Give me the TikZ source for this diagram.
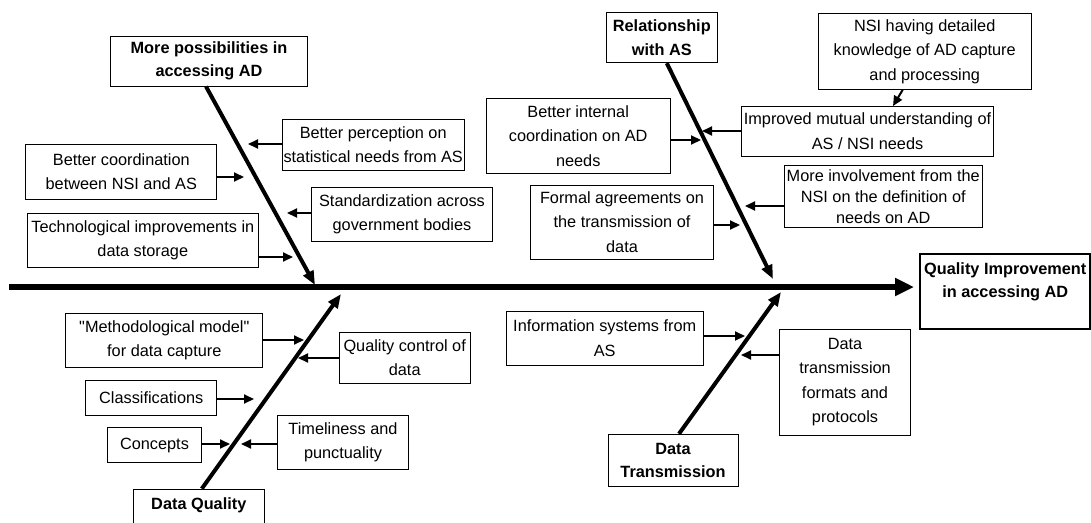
\documentclass[tikz,border=0pt]{standalone}
\usepackage{fontspec}
\setmainfont{Liberation Sans}[Ligatures=TeXOff]
\usetikzlibrary{arrows.meta}

\begin{document}
\begin{tikzpicture}[x=1pt,y=-1pt,
    causebox/.style={draw,line width=1pt,inner sep=1pt,align=center,
        font=\fontsize{16.3}{24.5}\selectfont},
    headbox/.style={causebox,font=\fontsize{16.3}{23.5}\selectfont\bfseries},
    bone/.style={line width=4pt,-{Triangle[length=14pt,width=11pt]}},
    cause/.style={line width=2pt,-{Triangle[length=10pt,width=9pt]}}]

    \useasboundingbox (0,0) rectangle (1091,522);

    \coordinate (spinestart) at (9,287);
    \coordinate (spineend) at (914,287);
    \coordinate (tip1) at (315,285);
    \coordinate (tip2) at (773,279);
    \coordinate (tip3) at (341,294);
    \coordinate (tip4) at (781,292);

    % main categories
    \node[headbox,minimum width=196.6pt,minimum height=50pt] (mposs) at (209,61)
        {More possibilities in\\accessing AD};
    \node[headbox,minimum width=111pt,minimum height=50.4pt] (relas) at (661.8,37.5)
        {Relationship\\with AS};
    \node[headbox,anchor=north,minimum width=131pt,minimum height=52pt] (dqual) at (198.8,488.7)
        {Data Quality\\~};
    \node[headbox,minimum width=130pt,minimum height=52.4pt] (dtrans) at (673,460.5)
        {Data\\Transmission};
    \node[headbox,line width=2pt,minimum width=170pt,minimum height=75.3pt] (effect) at (1005.3,291.7)
        {Quality Improvement\\in accessing AD\\~};

    \draw [line width=6pt,-{Triangle[length=19pt,width=17pt]}] (spinestart)
        -- (spineend);
    \draw [bone] ([xshift=-3pt]mposs.south) -- (tip1);
    \draw [bone] ([xshift=5pt]relas.south) -- (tip2);
    \draw [bone] ([xshift=3pt]dqual.north) -- (tip3);
    \draw [bone] ([xshift=6pt]dtrans.north) -- (tip4);

    % causes, upper left
    \node[causebox,minimum width=181.7pt,minimum height=51pt] (percep) at (373.2,144.5)
        {Better perception on\\statistical needs from AS};
    \node[causebox,minimum width=190.7pt,minimum height=54.7pt] (coord) at (121.3,171.7)
        {Better coordination\\between NSI and AS};
    \node[causebox,minimum width=180.6pt,minimum height=53.7pt] (stand) at (402,214.2)
        {Standardization across\\government bodies};
    \node[causebox,minimum width=231pt,minimum height=53.7pt] (techn) at (142.8,240.2)
        {Technological improvements in\\data storage};

    % causes, upper right
    \node[causebox,minimum width=183.7pt,minimum height=75pt] (intern) at (578.2,135.8)
        {Better internal\\coordination on AD\\needs};
    \node[causebox,minimum width=182.6pt,minimum height=74pt] (formal) at (622,222)
        {Formal agreements on\\the transmission of\\data};
    \node[causebox,minimum width=213.3pt,minimum height=76pt] (knowl) at (924.7,51.3)
        {NSI having detailed\\knowledge of AD capture\\and processing};
    \node[causebox,minimum width=252.4pt,minimum height=50pt] (mutual) at (867.5,131)
        {Improved mutual understanding of\\AS / NSI needs};
    \node[causebox,font=\fontsize{16.3}{20.7}\selectfont,minimum width=198.3pt,minimum height=62pt] (involv) at (883.2,196.7)
        {More involvement from the\\NSI on the definition of\\needs on AD};

    % causes, lower left
    \node[causebox,minimum width=196.7pt,minimum height=54.4pt] (method) at (164.3,340.5)
        {"Methodological model"\\for data capture};
    \node[causebox,minimum width=130.7pt,minimum height=51.7pt] (qctrl) at (404.7,357.9)
        {Quality control of\\data};
    \node[causebox,minimum width=130.7pt,minimum height=34.7pt] (classif) at (151.3,397.7)
        {Classifications};
    \node[causebox,minimum width=94.4pt,minimum height=34.6pt] (concep) at (154.5,445)
        {Concepts};
    \node[causebox,minimum width=130.6pt,minimum height=54.3pt] (timel) at (343,442.2)
        {Timeliness and\\punctuality};

    % causes, lower right
    \node[causebox,minimum width=196.7pt,minimum height=54pt] (infos) at (604.7,338)
        {Information systems from\\AS};
    \node[causebox,minimum width=130.6pt,minimum height=105.7pt] (dformat) at (845,382.2)
        {Data\\transmission\\formats and\\protocols};

    \coordinate (c1) at (248,144);
    \coordinate (c2) at (244,177);
    \coordinate (c3) at (287,213);
    \coordinate (c4) at (293,257);
    \coordinate (r1) at (701,140);
    \coordinate (r2) at (702,131);
    \coordinate (r3) at (893,106);
    \coordinate (r4) at (745,206);
    \coordinate (r5) at (740,225);
    \coordinate (q1) at (304,340);
    \coordinate (q2) at (298,358);
    \coordinate (q3) at (254,399);
    \coordinate (q4) at (230,444);
    \coordinate (q5) at (241,444);
    \coordinate (t1) at (745,336);
    \coordinate (t2) at (741,355);

    \draw [cause] (percep.west |- c1) -- (c1);
    \draw [cause] (coord.east |- c2) -- (c2);
    \draw [cause] (stand.west |- c3) -- (c3);
    \draw [cause] (techn.east |- c4) -- (c4);
    \draw [cause] (intern.east |- r1) -- (r1);
    \draw [cause] (mutual.west |- r2) -- (r2);
    \draw [cause] ([xshift=-22pt]knowl.south) -- (r3);
    \draw [cause] (involv.west |- r4) -- (r4);
    \draw [cause] (formal.east |- r5) -- (r5);
    \draw [cause] (method.east |- q1) -- (q1);
    \draw [cause] (qctrl.west |- q2) -- (q2);
    \draw [cause] (classif.east |- q3) -- (q3);
    \draw [cause] (concep.east |- q4) -- (q4);
    \draw [cause] (timel.west |- q5) -- (q5);
    \draw [cause] (infos.east |- t1) -- (t1);
    \draw [cause] (dformat.west |- t2) -- (t2);
\end{tikzpicture}
\end{document}
